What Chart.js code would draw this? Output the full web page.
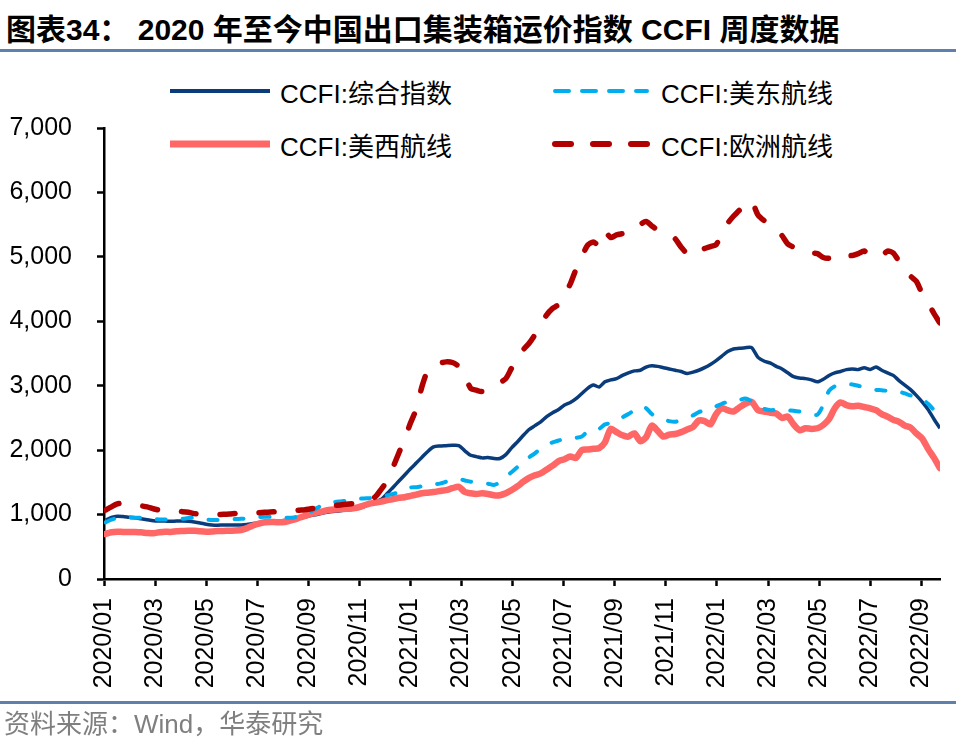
<!DOCTYPE html>
<html>
<head>
<meta charset="utf-8">
<script src="https://cdn.jsdelivr.net/npm/chart.js@4"></script>
<style>
body { margin: 0; background: #fff; }
#wrap { position: relative; width: 956px; height: 741px; overflow: hidden;
  font-family: "Liberation Sans", "Noto Sans CJK SC", sans-serif; }
#title { position: absolute; left: 6px; top: 12px; font-size: 30px; font-weight: bold; white-space: nowrap; line-height: 36px; }
.rule { position: absolute; left: 0; width: 956px; height: 3px; background: #5f7fae; }
#src { position: absolute; left: 4px; top: 709px; font-size: 26px; color: #7f7f7f; white-space: nowrap; line-height: 30px; }
.lg { position: absolute; height: 36px; display: flex; align-items: center; font-size: 26px; white-space: nowrap; }
.lg svg { margin-right: 10px; }
canvas { position: absolute; left: 0; top: 0; }
</style>
</head>
<body>
<div id="wrap">
  <div id="title">图表34：&nbsp;2020 年至今中国出口集装箱运价指数 CCFI 周度数据</div>
  <div class="rule" style="top:49px"></div>
  <div id="legend"></div>
  <canvas id="myChart" width="956" height="741"></canvas>
  <div class="rule" style="top:701px"></div>
  <div id="src">资料来源：Wind，华泰研究</div>
</div>
<script>
// weekly data, first week 2020-01-03
const firstWeek = '2020-01-03'

const seriesNames = ['CCFI:综合指数', 'CCFI:美东航线', 'CCFI:美西航线', 'CCFI:欧洲航线']

const tickLabels = ['2020/01', '2020/03', '2020/05', '2020/07', '2020/09', '2020/11',
  '2021/01', '2021/03', '2021/05', '2021/07', '2021/09', '2021/11',
  '2022/01', '2022/03', '2022/05', '2022/07', '2022/09']

const composite = [
  915, 955, 975, 970, 960, 950, 935, 920, 905, 900,
  900, 895, 900, 900, 895, 885, 870, 850, 838, 835,
  838, 838, 840, 838, 845, 860, 870, 875, 885, 895,
  905, 915, 930, 950, 965, 985, 1000, 1025, 1040, 1050,
  1060, 1075, 1090, 1100, 1120, 1170, 1200, 1240, 1330, 1425,
  1520, 1615, 1710, 1800, 1890, 1980, 2050, 2065, 2070, 2075,
  2070, 1990, 1920, 1900, 1880, 1885, 1870, 1870, 1930, 2040,
  2130, 2230, 2320, 2380, 2440, 2520, 2580, 2630, 2700, 2740,
  2800, 2880, 2960, 3010, 2980, 3060, 3090, 3110, 3160, 3200,
  3230, 3240, 3290, 3310, 3300, 3280, 3260, 3240, 3220, 3190,
  3210, 3240, 3280, 3330, 3390, 3460, 3530, 3570, 3580, 3590,
  3590, 3440, 3380, 3350, 3300, 3260, 3200, 3140, 3120, 3110,
  3090, 3060, 3100, 3160, 3200, 3220, 3250, 3260, 3250, 3280,
  3250, 3290, 3240, 3200, 3160, 3080, 3010, 2940, 2850, 2750,
  2630, 2480, 2340
]

const usEast = [
  880, 920, 945, 950, 950, 952, 950, 940, 930, 925,
  925, 925, 930, 935, 945, 950, 940, 925, 915, 915,
  920, 925, 930, 935, 940, 950, 960, 968, 965, 960,
  955, 952, 955, 980, 1020, 1050, 1100, 1150, 1180, 1195,
  1205, 1215, 1230, 1245, 1250, 1255, 1260, 1270, 1300, 1320,
  1350, 1380, 1420, 1425, 1440, 1460, 1470, 1480, 1510, 1540,
  1550, 1530, 1510, 1500, 1490, 1480, 1460, 1500, 1590, 1660,
  1740, 1820, 1890, 1950, 2030, 2090, 2120, 2150, 2170, 2184,
  2190, 2210, 2290, 2300, 2330, 2400, 2420, 2460, 2510, 2560,
  2620, 2680, 2650, 2560, 2500, 2480, 2450, 2440, 2470, 2500,
  2540, 2590, 2620, 2670, 2680, 2720, 2750, 2770, 2780, 2800,
  2760, 2680, 2640, 2620, 2625, 2630, 2620, 2610, 2600, 2590,
  2560, 2550, 2700, 2920, 2990, 3010, 3020, 3020, 3000, 2970,
  2950, 2935, 2930, 2920, 2910, 2905, 2880, 2850, 2830, 2790,
  2720, 2620, 2500
]

const usWest = [
  700, 725, 735, 730, 730, 728, 724, 715, 710, 725,
  735, 730, 740, 745, 750, 748, 740, 735, 738, 745,
  745, 750, 752, 760, 790, 830, 860, 880, 885, 882,
  880, 895, 920, 950, 980, 1010, 1030, 1050, 1070, 1080,
  1085, 1090, 1095, 1110, 1140, 1170, 1185, 1200, 1225, 1240,
  1260, 1270, 1290, 1310, 1330, 1340, 1350, 1365, 1380, 1410,
  1430, 1350, 1330, 1320, 1330, 1320, 1300, 1300, 1330, 1380,
  1440, 1510, 1570, 1610, 1640, 1700, 1760, 1830, 1860, 1900,
  1880, 2000, 2010, 2020, 2030, 2120, 2330, 2280, 2230, 2210,
  2260, 2140, 2200, 2380, 2300, 2210, 2240, 2250, 2280, 2320,
  2360, 2460, 2450, 2400, 2560, 2650, 2620, 2600, 2660, 2720,
  2750, 2620, 2600, 2580, 2570, 2500, 2520, 2400, 2310, 2340,
  2330, 2340, 2390, 2480, 2650, 2740, 2700, 2680, 2690, 2670,
  2650, 2620, 2560, 2520, 2470, 2440, 2380, 2350, 2260, 2180,
  2020, 1880, 1720
]

const europe = [
  1070, 1120, 1165, 1175, 1160, 1145, 1135, 1120, 1090, 1070,
  1060, 1055, 1050, 1045, 1035, 1015, 1008, 1005, 1000, 1002,
  1004, 1008, 1015, 1020, 1022, 1025, 1030, 1035, 1040, 1045,
  1045, 1050, 1060, 1068, 1075, 1090, 1100, 1115, 1125, 1140,
  1150, 1160, 1170, 1180, 1200, 1230, 1280, 1400, 1530, 1740,
  1960, 2180, 2420, 2640, 2990, 3240, 3320, 3350, 3370, 3360,
  3300, 3160, 2960, 2930, 2910, 2960, 2990, 3050, 3110, 3280,
  3430, 3560, 3660, 3790, 3950, 4100, 4200, 4260, 4420, 4580,
  4810, 5000, 5180, 5230, 5180, 5390, 5300, 5340, 5360, 5380,
  5400, 5500, 5550, 5480, 5420, 5400, 5350, 5280, 5150, 5060,
  5140, 5090, 5130, 5160, 5190, 5370, 5520, 5630, 5720, 5830,
  5860, 5650, 5560, 5500, 5420, 5330, 5200, 5150, 5100, 5070,
  5060, 5050, 4990, 4980, 5040, 5050, 5030, 5020, 5050, 5090,
  5010, 5000, 5010, 5090, 5060, 4930, 4820, 4700, 4620, 4430,
  4280, 4120, 3970
]

// months since 2020/01 for a date (x axis is linear in months)
function monthPos(y, m, d) {
  let days = new Date(Date.UTC(y, m, 0)).getUTCDate()
  return (y - 2020) * 12 + (m - 1) + (d - 1) / days
}

let t0 = Date.parse(firstWeek + 'T00:00:00Z')
const weekX = composite.map((v, i) => {
  let dt = new Date(t0 + i * 7 * 86400000)
  return monthPos(dt.getUTCFullYear(), dt.getUTCMonth() + 1, dt.getUTCDate())
})
const tickX = tickLabels.map(s => {
  let [y, m] = s.split('/').map(Number)
  return monthPos(y, m, 1)
})

function pts(arr) {
  return arr.map((v, i) => ({ x: weekX[i], y: v }))
}

const styles = [
  { color: '#0a3c7c', width: 3.5, dash: [], cap: 'butt', order: 3, lgWidth: 4, lgDash: '' },
  { color: '#00aeef', width: 4, dash: [9, 17], cap: 'round', order: 1, lgWidth: 4, lgDash: '14 13' },
  { color: '#ff6666', width: 6.5, dash: [], cap: 'round', order: 2, lgWidth: 7, lgDash: '' },
  { color: '#b00000', width: 5.5, dash: [15, 24], cap: 'round', order: 0, lgWidth: 6, lgDash: '16 22' },
]
const seriesData = [composite, usEast, usWest, europe]

const data = {
  datasets: seriesData.map((arr, i) => ({
    label: seriesNames[i],
    data: pts(arr),
    borderColor: styles[i].color,
    borderWidth: styles[i].width,
    borderDash: styles[i].dash,
    borderCapStyle: styles[i].cap,
    borderJoinStyle: 'round',
    pointRadius: 0,
    tension: 0.25,
    order: styles[i].order,
  }))
}

// html legend, two columns like the original
const lgPos = [[170, 91], [551, 91], [170, 144], [551, 144]]
let lgHtml = ''
seriesNames.forEach((name, i) => {
  let s = styles[i]
  let extra = s.lgDash ? ` stroke-dasharray="${s.lgDash}"` : ''
  let cap = s.lgDash && s.cap == 'round' ? 'round' : 'butt'
  let x1 = cap == 'round' ? 4 : 0
  lgHtml += `<div class="lg" style="left:${lgPos[i][0]}px;top:${lgPos[i][1] - 18}px">` +
    `<svg width="100" height="14"><line x1="${x1}" y1="7" x2="${100 - x1}" y2="7" stroke="${s.color}" stroke-width="${s.lgWidth}" stroke-linecap="${cap}"${extra}/></svg>` +
    `<span>${name}</span></div>`
})
document.getElementById('legend').innerHTML = lgHtml

const axisFont = { family: '"Liberation Sans", Arial, sans-serif', size: 25 }

const config = {
  type: 'line',
  data: data,
  options: {
    responsive: false,
    animation: false,
    layout: { padding: { left: 0, top: 128, right: 16, bottom: 41 } },
    plugins: {
      legend: { display: false },
      tooltip: { enabled: false },
    },
    scales: {
      x: {
        type: 'linear',
        min: 0,
        max: weekX[weekX.length - 1],
        afterBuildTicks: scale => { scale.ticks = tickX.map(v => ({ value: v })) },
        afterFit: scale => {
          scale.height = 121
          scale.paddingLeft = 0
          scale.paddingRight = 0
        },
        ticks: {
          autoSkip: false,
          maxRotation: 90,
          minRotation: 90,
          padding: 12,
          color: '#000',
          font: axisFont,
          callback: (value) => tickLabels[tickX.indexOf(value)],
        },
        grid: { drawOnChartArea: false, drawTicks: true, tickLength: 7, tickWidth: 2.5, tickColor: '#000' },
        border: { display: true, color: '#000', width: 2.5 },
      },
      y: {
        min: 0,
        max: 7000,
        afterFit: scale => { scale.width = 104 },
        ticks: {
          stepSize: 1000,
          padding: 25,
          color: '#000',
          font: axisFont,
          callback: v => v.toLocaleString('en-US'),
        },
        grid: { drawOnChartArea: false, drawTicks: true, tickLength: 7, tickWidth: 2.5, tickColor: '#000' },
        border: { display: true, color: '#000', width: 2.5 },
      }
    }
  }
}

const myChart = new Chart(document.getElementById('myChart'), config)
</script>
</body>
</html>
